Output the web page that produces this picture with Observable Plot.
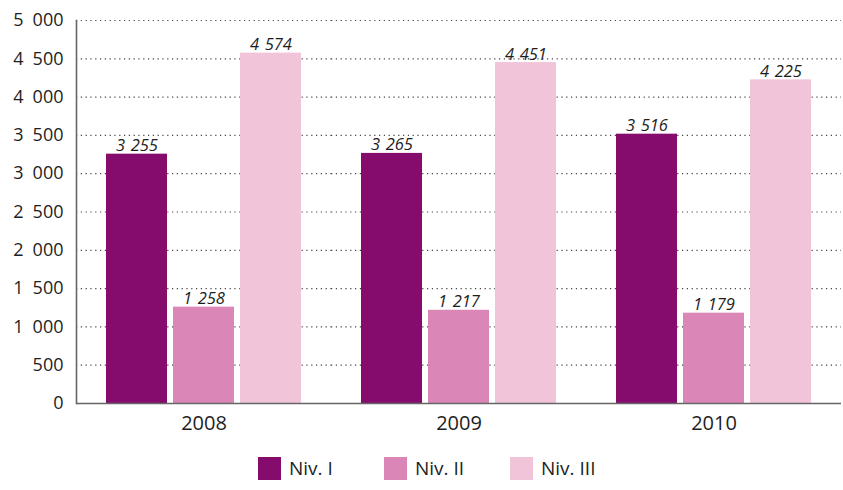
<!DOCTYPE html>
<html>
<head>
<meta charset="utf-8">
<script src="https://cdn.jsdelivr.net/npm/d3@7"></script>
<script src="https://cdn.jsdelivr.net/npm/@observablehq/plot@0.6"></script>
<style>
  body { margin: 0; background: #fff; font-family: "Open Sans", sans-serif; }
  #chart svg { display: block; }
  .legend { margin-top: 12px; padding-left: 258px; height: 30px; white-space: nowrap; }
  .legend .item { display: inline-block; width: 126px; vertical-align: top; font-size: 19px; color: #1e1e1e; line-height: 23px; }
  .legend .sw { display: inline-block; width: 23px; height: 23px; vertical-align: top; margin-right: 8px; }
</style>
</head>
<body>
<div id="chart"></div>
<script>
const years = ["2008", "2009", "2010"];
const levels = ["Niv. I", "Niv. II", "Niv. III"];
const nivI = [3255, 3265, 3516];
const nivII = [1258, 1217, 1179];
const nivIII = [4574, 4451, 4225];
const colors = ["#850b6d", "#da86b7", "#f2c4da"];
const yTicks = [0, 500, 1000, 1500, 2000, 2500, 3000, 3500, 4000, 4500, 5000];

const series = [nivI, nivII, nivIII];
const data = [];
years.forEach((yr, i) => levels.forEach((lv, j) => data.push({year: yr, level: lv, value: series[j][i]})));

const base = d3.format(",");
const tickFmt = d => base(d).replace(/,/g, "\u2002");
const labelFmt = d => base(d).replace(/,/g, "\u2004");

const chart = Plot.plot({
  width: 843,
  height: 445,
  marginTop: 20,
  marginBottom: 42,
  marginLeft: 75,
  marginRight: 2,
  style: { fontFamily: "'Open Sans', sans-serif", color: "#1e1e1e", background: "#fff" },
  fx: { domain: years, padding: 0, label: null, axis: null },
  x: { domain: levels, paddingInner: 0.088, paddingOuter: 0.426, axis: null },
  y: { domain: [0, 5000], axis: null },
  color: { domain: levels, range: colors },
  marks: [
    Plot.gridY(yTicks, { stroke: "#444", strokeOpacity: 1, strokeDasharray: "1.2,3.6", strokeWidth: 1.2 }),
    Plot.barY(data, { fx: "year", x: "level", y: "value", fill: "level" }),
    Plot.ruleY([0], { stroke: "#666", strokeWidth: 1.6 }),
    Plot.text(data, { fx: "year", x: "level", y: "value", text: d => labelFmt(d.value), lineAnchor: "bottom", dy: -3, fontSize: 16.5, fontStyle: "italic", fill: "#1e1e1e" }),
    Plot.axisY(yTicks, { tickSize: 0, tickPadding: 13, tickFormat: tickFmt, fontSize: 18, fill: "#1e1e1e", label: null }),
    Plot.frame({ anchor: "left", facetAnchor: "left", stroke: "#666", strokeWidth: 1.6 }),
    Plot.axisFx({ anchor: "bottom", tickSize: 0, tickPadding: 12, fontSize: 20, fill: "#1e1e1e", label: null })
  ]
});
document.getElementById("chart").appendChild(chart);

const legend = document.createElement("div");
legend.className = "legend";
levels.forEach((lv, j) => {
  const item = document.createElement("span");
  item.className = "item";
  const sw = document.createElement("span");
  sw.className = "sw";
  sw.style.background = colors[j];
  item.appendChild(sw);
  item.appendChild(document.createTextNode(lv));
  legend.appendChild(item);
});
document.body.appendChild(legend);
</script>
</body>
</html>
